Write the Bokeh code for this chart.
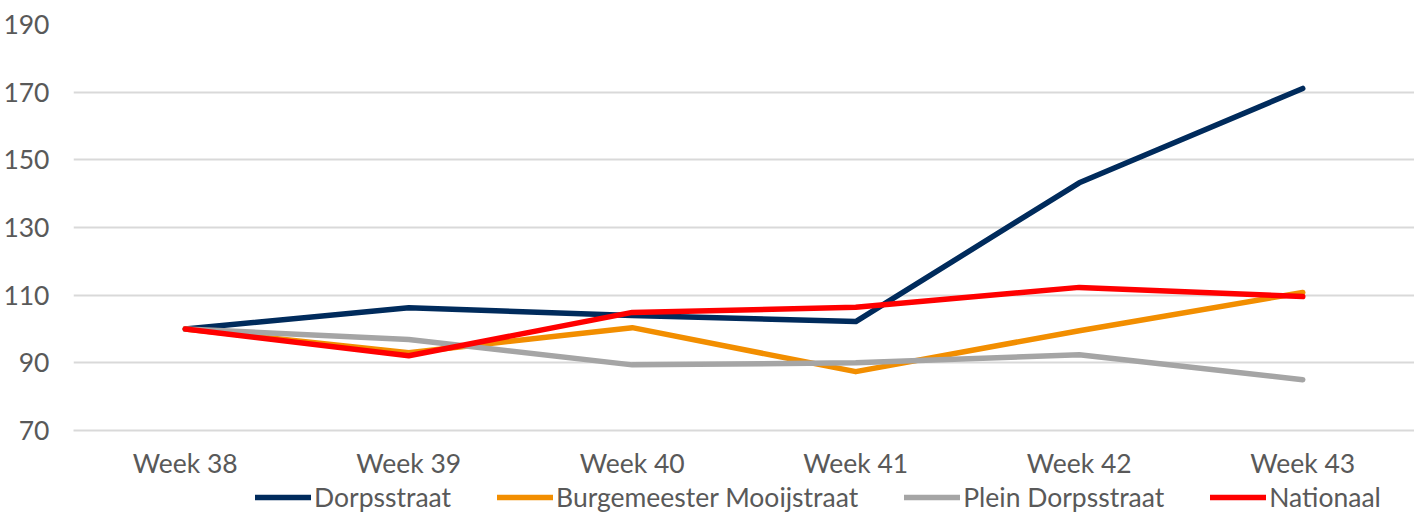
from bokeh.plotting import figure
from bokeh.models import Range1d, FactorRange, Legend, LegendItem, FixedTicker
from bokeh.layouts import column
from bokeh.embed import file_html
from bokeh.resources import INLINE

weeks = ["Week 38", "Week 39", "Week 40", "Week 41", "Week 42", "Week 43"]
dorpsstraat = [100, 106.3, 104.0, 102.2, 143.2, 171.1]
burgemeester = [100, 93.0, 100.4, 87.4, 99.5, 110.8]
plein = [100, 96.9, 89.4, 90.0, 92.4, 85.0]
nationaal = [100, 92.1, 104.9, 106.4, 112.3, 109.6]
y_ticks = [70, 90, 110, 130, 150, 170, 190]

series_names = ["Dorpsstraat", "Burgemeester Mooijstraat", "Plein Dorpsstraat", "Nationaal"]
series_values = [dorpsstraat, burgemeester, plein, nationaal]
colors = ["#002B5C", "#F28E00", "#A5A5A5", "#FF0000"]

FONT = "Lato"
TXT = "#595959"
FS = "26.5px"
LW = 5.5
W = 1414

p = figure(width=W, height=481, x_range=FactorRange(*weeks, range_padding=0),
           y_range=Range1d(70, 190), output_backend="svg", toolbar_location=None,
           min_border_left=67, min_border_right=0, min_border_top=24, min_border_bottom=40)
p.outline_line_color = None
p.background_fill_color = "white"
p.border_fill_color = "white"

p.yaxis.ticker = FixedTicker(ticks=y_ticks)
p.yaxis.axis_line_color = None
p.yaxis.major_tick_line_color = None
p.yaxis.minor_tick_line_color = None
p.yaxis.major_label_text_font = FONT
p.yaxis.major_label_text_font_size = FS
p.yaxis.major_label_text_color = TXT
p.yaxis.major_label_standoff = 18

p.xaxis.axis_line_color = "#D9D9D9"
p.xaxis.axis_line_width = 2
p.xaxis.major_tick_line_color = None
p.xaxis.minor_tick_line_color = None
p.xaxis.major_label_text_font = FONT
p.xaxis.major_label_text_font_size = FS
p.xaxis.major_label_text_color = TXT
p.xaxis.major_label_standoff = 10

p.xgrid.grid_line_color = None
p.ygrid.grid_line_color = "#D9D9D9"
p.ygrid.grid_line_width = 2

for name, vals, c in zip(series_names, series_values, colors):
    p.line(weeks, vals, line_color=c, line_width=LW, line_join="round", line_cap="round")

# legend strip below the chart
lg = figure(width=W, height=32, x_range=Range1d(0, 1), y_range=Range1d(0, 1),
            x_axis_location=None, y_axis_location=None,
            output_backend="svg", toolbar_location=None,
            min_border_left=0, min_border_right=0, min_border_top=0, min_border_bottom=0)
lg.grid.visible = False
lg.outline_line_color = None
items = []
for name, c in zip(series_names, colors):
    r = lg.line([-10, -9], [-10, -9], line_color=c, line_width=LW, line_cap="round")
    items.append(LegendItem(label=name, renderers=[r]))
legend = Legend(items=items, orientation="horizontal", location=(182, 0),
                label_text_font=FONT, label_text_font_size=FS, label_text_color=TXT,
                glyph_width=56, glyph_height=28, label_standoff=3, spacing=46, padding=0, margin=0,
                border_line_color=None, background_fill_alpha=0)
lg.add_layout(legend, "center")

layout = column(p, lg, spacing=0)
open("out.html", "w").write(file_html(layout, INLINE))
